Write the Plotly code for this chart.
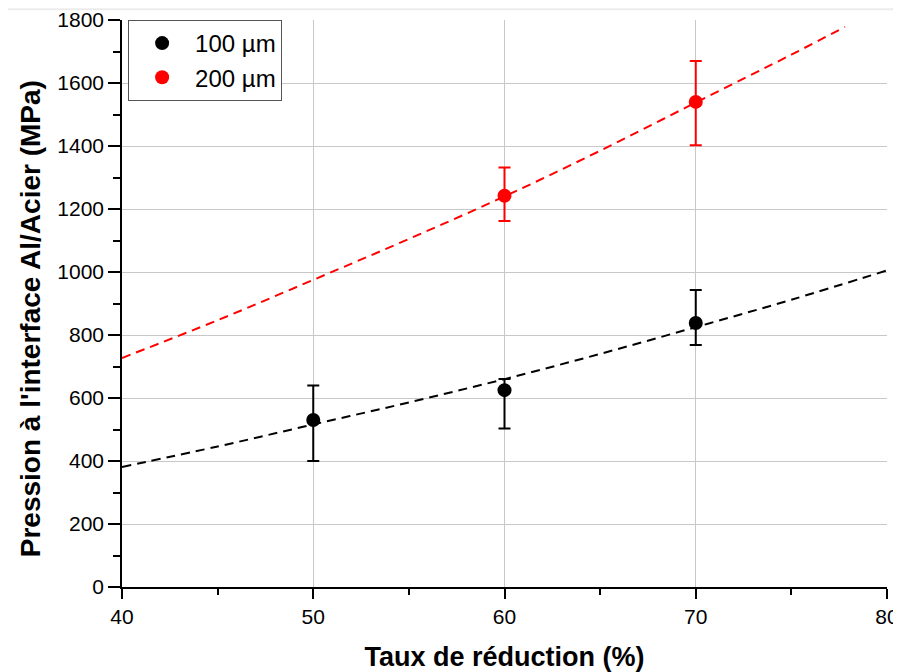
import plotly.graph_objects as go

# measured points (mean +/- error)
x_pts = [50, 60, 70]
p100 = [530, 625, 838]
p100_up = [110, 35, 105]
p100_down = [130, 122, 70]

x_pts2 = [60, 70]
p200 = [1242, 1540]
p200_up = [90, 130]
p200_down = [80, 138]

# fitted curves
fit_x100 = [40, 45, 50, 55, 60, 65, 70, 75, 80]
fit_y100 = [381, 446, 516, 586, 660, 740, 825, 912, 1005]
fit_x200 = [40, 45, 50, 55, 60, 65, 70, 75, 77.8]
fit_y200 = [727, 847, 975, 1105, 1240, 1385, 1538, 1690, 1778]

FONT = "Liberation Sans, Arial, sans-serif"

fig = go.Figure()

fig.add_trace(go.Scatter(x=fit_x100, y=fit_y100, mode='lines', line_shape='spline',
                         line=dict(color='black', width=2, dash='9px,6px'), showlegend=False))
fig.add_trace(go.Scatter(x=fit_x200, y=fit_y200, mode='lines', line_shape='spline',
                         line=dict(color='#ff0000', width=2, dash='9px,6px'), showlegend=False))

fig.add_trace(go.Scatter(x=x_pts, y=p100, mode='markers', name='100 µm',
                         marker=dict(color='black', size=14),
                         error_y=dict(type='data', symmetric=False, array=p100_up,
                                      arrayminus=p100_down, color='black',
                                      thickness=2, width=6)))
fig.add_trace(go.Scatter(x=x_pts2, y=p200, mode='markers', name='200 µm',
                         marker=dict(color='#ff0000', size=14),
                         error_y=dict(type='data', symmetric=False, array=p200_up,
                                      arrayminus=p200_down, color='#ff0000',
                                      thickness=2, width=6)))

# invisible trace so the grid-only axes get drawn
fig.add_trace(go.Scatter(x=[40], y=[0], xaxis='x2', yaxis='y2', mode='markers',
                         marker=dict(opacity=0), showlegend=False, hoverinfo='skip'))

# page body has an 8px margin, so the figure is a bit smaller than the window
fig.update_layout(
    width=893, height=664,
    margin=dict(l=114, r=14, t=12, b=85),
    paper_bgcolor='white', plot_bgcolor='white',
    font=dict(family=FONT, color='black', size=21),
    showlegend=True,
    legend=dict(x=0.008, y=1.0, xanchor='left', yanchor='top',
                bordercolor='#555555', borderwidth=1, bgcolor='white',
                font=dict(size=24, family=FONT), itemwidth=56,
                tracegroupgap=0),
    xaxis=dict(range=[40, 80], tickvals=[40, 50, 60, 70, 80], showgrid=False,
               automargin=False, tickfont=dict(size=21),
               showline=True, linecolor='black', linewidth=1.5,
               ticks='outside', ticklen=10, tickwidth=1.5, tickcolor='black',
               minor=dict(ticks='outside', ticklen=6, tickwidth=1.5, dtick=5, tick0=40,
                          tickcolor='black', showgrid=False),
               zeroline=False,
               title=dict(text='<b>Taux de réduction (%)</b>', font=dict(size=27), standoff=22)),
    yaxis=dict(range=[0, 1800], tickvals=list(range(0, 1801, 200)), showgrid=False,
               automargin=False, tickfont=dict(size=21),
               showline=True, linecolor='black', linewidth=1.5,
               ticks='outside', ticklen=12, tickwidth=1.5, tickcolor='black',
               minor=dict(ticks='outside', ticklen=7, tickwidth=1.5, dtick=100, tick0=0,
                          tickcolor='black', showgrid=False),
               zeroline=False),
    xaxis2=dict(range=[40, 80], overlaying='x', tickvals=[50, 60, 70], showgrid=True,
                gridcolor='#c8c8c8', gridwidth=1, showticklabels=False, ticks='',
                showline=False, zeroline=False, layer='below traces'),
    yaxis2=dict(range=[0, 1800], overlaying='y', tickvals=list(range(200, 1601, 200)),
                showgrid=True, gridcolor='#c8c8c8', gridwidth=1, showticklabels=False,
                ticks='', showline=False, zeroline=False, layer='below traces'),
    annotations=[dict(text="<b>Pression à l'interface Al/Acier (MPa)</b>",
                      xref='paper', yref='paper', x=-0.1203, y=0.474,
                      xanchor='center', yanchor='middle', textangle=-90,
                      showarrow=False, font=dict(size=28, family=FONT, color='black'))],
    shapes=[dict(type='line', xref='paper', yref='paper', x0=-0.149, x1=1.018,
                 y0=1.019, y1=1.019, line=dict(color='#ececec', width=2))],
)

fig.write_html("out.html")
